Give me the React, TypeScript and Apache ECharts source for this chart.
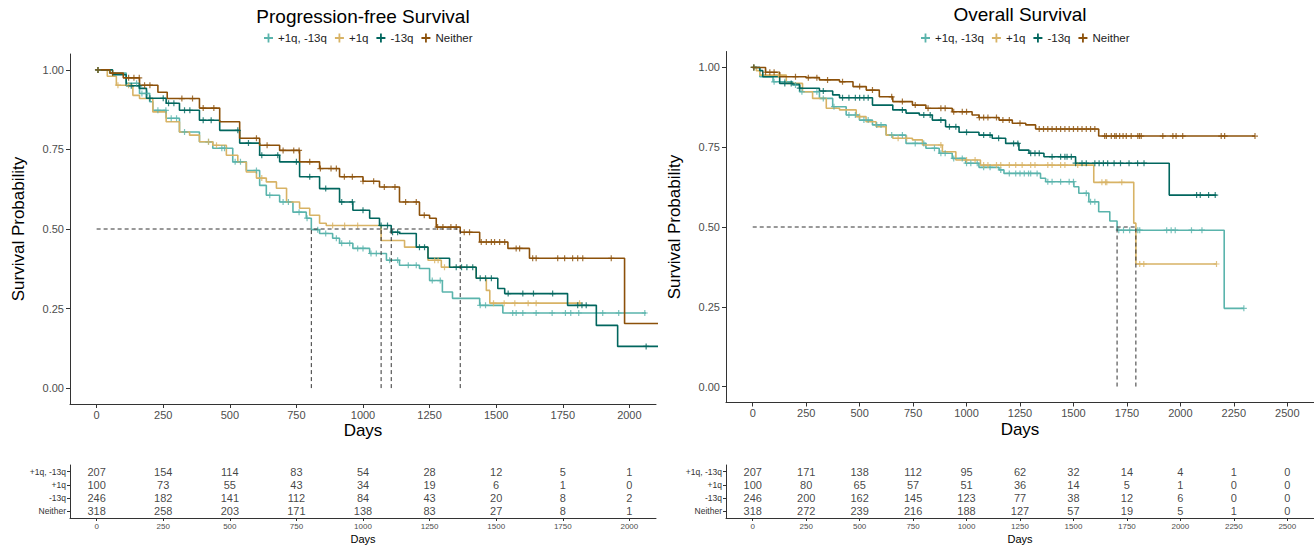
import { useEffect, useRef } from "react";
import * as echarts from "echarts";

type Pt = [number, number];

const FONT = "'Liberation Sans', Arial, Helvetica, sans-serif";

const groups = ["+1q, -13q", "+1q", "-13q", "Neither"];
const groupColors = ["#5AB4AC", "#D8B365", "#01665E", "#8C510A"];

// Kaplan-Meier steps: [day, survival from that day on]
const pfsGainDel: Pt[] = [[0, 1], [49, 0.99], [111, 0.958], [161, 0.926], [199, 0.9], [211, 0.873], [261, 0.848], [311, 0.805], [386, 0.774], [436, 0.754], [511, 0.711], [562, 0.684], [612, 0.637], [637, 0.606], [687, 0.585], [737, 0.553], [787, 0.534], [806, 0.498], [837, 0.486], [886, 0.471], [912, 0.455], [962, 0.439], [1025, 0.423], [1088, 0.402], [1137, 0.386], [1212, 0.376], [1250, 0.338], [1298, 0.302], [1336, 0.282], [1438, 0.26], [1525, 0.236], [2063, 0.236]];
const pfsGain: Pt[] = [[0, 1], [40, 0.98], [74, 0.952], [136, 0.92], [161, 0.91], [211, 0.868], [261, 0.837], [311, 0.805], [349, 0.795], [386, 0.774], [436, 0.763], [487, 0.732], [530, 0.71], [562, 0.679], [600, 0.66], [637, 0.648], [675, 0.628], [713, 0.585], [762, 0.565], [800, 0.543], [837, 0.518], [862, 0.511], [1068, 0.464], [1156, 0.443], [1244, 0.402], [1294, 0.38], [1425, 0.345], [1463, 0.307], [1476, 0.267], [1819, 0.267]];
const pfsDel: Pt[] = [[0, 1], [60, 0.985], [111, 0.95], [161, 0.942], [187, 0.911], [261, 0.895], [311, 0.873], [386, 0.842], [462, 0.81], [537, 0.77], [612, 0.732], [687, 0.711], [762, 0.664], [837, 0.627], [912, 0.585], [962, 0.559], [1025, 0.534], [1062, 0.511], [1106, 0.49], [1137, 0.486], [1200, 0.443], [1244, 0.408], [1325, 0.38], [1425, 0.345], [1506, 0.313], [1532, 0.297], [1768, 0.26], [1876, 0.197], [1956, 0.131], [2110, 0.131]];
const pfsNeither: Pt[] = [[0, 1], [50, 0.99], [100, 0.975], [161, 0.952], [230, 0.93], [265, 0.91], [386, 0.88], [462, 0.837], [537, 0.785], [612, 0.763], [687, 0.747], [762, 0.711], [837, 0.69], [912, 0.664], [1000, 0.65], [1062, 0.632], [1137, 0.585], [1212, 0.543], [1250, 0.534], [1275, 0.506], [1365, 0.49], [1438, 0.459], [1544, 0.439], [1625, 0.408], [1982, 0.203], [2110, 0.203]];

const osGainDel: Pt[] = [[0, 1], [33, 0.971], [95, 0.955], [187, 0.945], [219, 0.924], [312, 0.903], [374, 0.877], [437, 0.851], [499, 0.835], [560, 0.82], [624, 0.788], [717, 0.762], [810, 0.747], [872, 0.731], [933, 0.715], [996, 0.7], [1058, 0.687], [1152, 0.679], [1175, 0.668], [1346, 0.653], [1370, 0.642], [1502, 0.626], [1525, 0.606], [1572, 0.579], [1618, 0.548], [1670, 0.519], [1704, 0.49], [2205, 0.245], [2297, 0.245]];
const osGain: Pt[] = [[0, 1], [17, 0.99], [33, 0.976], [157, 0.95], [233, 0.924], [280, 0.903], [344, 0.872], [406, 0.867], [484, 0.846], [530, 0.83], [577, 0.814], [624, 0.788], [655, 0.778], [747, 0.773], [794, 0.757], [887, 0.736], [950, 0.71], [1065, 0.694], [1595, 0.64], [1782, 0.512], [1792, 0.384], [2169, 0.384]];
const osDel: Pt[] = [[0, 1], [33, 0.99], [47, 0.971], [126, 0.95], [187, 0.947], [219, 0.935], [312, 0.926], [374, 0.914], [406, 0.905], [560, 0.882], [655, 0.867], [717, 0.857], [779, 0.851], [840, 0.835], [902, 0.814], [965, 0.797], [1058, 0.788], [1120, 0.778], [1183, 0.762], [1245, 0.741], [1292, 0.731], [1362, 0.72], [1510, 0.7], [1948, 0.6], [2169, 0.6]];
const osNeither: Pt[] = [[0, 1], [60, 0.985], [126, 0.971], [250, 0.968], [312, 0.961], [406, 0.955], [469, 0.94], [531, 0.929], [592, 0.908], [655, 0.893], [747, 0.882], [810, 0.872], [933, 0.861], [1026, 0.851], [1058, 0.843], [1152, 0.835], [1214, 0.825], [1277, 0.82], [1323, 0.807], [1618, 0.785], [2349, 0.785]];

// Censoring times per group
const pfsCensGainDel = [5, 150, 170, 190, 230, 260, 280, 300, 330, 420, 470, 480, 520, 540, 600, 650, 700, 720, 760, 790, 830, 860, 900, 920, 950, 980, 1000, 1030, 1050, 1100, 1130, 1170, 1200, 1260, 1290, 1440, 1460, 1562, 1575, 1600, 1650, 1710, 1760, 1780, 1810, 1900, 1960, 2058];
const pfsCensGain = [5, 80, 120, 420, 450, 620, 886, 931, 980, 1269, 1282, 1306, 1490, 1530, 1570, 1620, 1650, 1813];
const pfsCensDel = [5, 130, 160, 200, 250, 270, 290, 330, 350, 400, 430, 530, 570, 620, 680, 750, 800, 860, 920, 960, 1000, 1068, 1092, 1111, 1130, 1212, 1231, 1350, 1370, 1390, 1412, 1440, 1460, 1482, 1545, 1600, 1640, 1712, 1806, 1822, 1838, 2063];
const pfsCensNeither = [5, 60, 120, 140, 160, 180, 200, 320, 360, 400, 440, 600, 640, 700, 740, 760, 800, 840, 880, 900, 930, 960, 1000, 1040, 1080, 1120, 1160, 1200, 1230, 1280, 1300, 1330, 1350, 1380, 1400, 1444, 1463, 1482, 1494, 1513, 1532, 1575, 1588, 1637, 1650, 1731, 1757, 1787, 1806, 1825, 1932];

const osCensGainDel = [5, 100, 150, 200, 230, 300, 330, 380, 450, 480, 520, 540, 580, 600, 650, 700, 760, 800, 850, 880, 900, 940, 980, 1000, 1020, 1050, 1080, 1110, 1160, 1200, 1230, 1250, 1270, 1290, 1300, 1330, 1380, 1400, 1440, 1480, 1500, 1560, 1580, 1600, 1712, 1734, 1763, 1801, 1810, 1936, 1957, 1976, 2052, 2101, 2297];
const osCensGain = [5, 120, 500, 680, 720, 880, 1000, 1040, 1080, 1100, 1140, 1160, 1200, 1230, 1260, 1300, 1320, 1380, 1400, 1440, 1460, 1520, 1633, 1650, 1656, 1726, 1810, 1829, 2169];
const osCensDel = [5, 150, 180, 220, 330, 420, 450, 480, 500, 520, 540, 700, 800, 830, 880, 920, 950, 1000, 1080, 1110, 1150, 1220, 1240, 1300, 1320, 1340, 1400, 1440, 1460, 1470, 1490, 1510, 1540, 1560, 1600, 1620, 1640, 1660, 1690, 1720, 1760, 1800, 1830, 2076, 2093, 2132, 2163];
const osCensNeither = [5, 60, 80, 100, 200, 260, 300, 350, 420, 500, 560, 650, 700, 760, 820, 880, 900, 940, 980, 1000, 1060, 1080, 1100, 1140, 1170, 1200, 1250, 1340, 1360, 1380, 1400, 1420, 1440, 1460, 1480, 1500, 1520, 1540, 1560, 1580, 1600, 1646, 1654, 1677, 1693, 1700, 1716, 1732, 1747, 1770, 1801, 1809, 1817, 1918, 1965, 1980, 2011, 2191, 2207, 2349];

// Numbers at risk
const pfsRiskDays = [0, 250, 500, 750, 1000, 1250, 1500, 1750, 2000];
const pfsRiskGainDel = [207, 154, 114, 83, 54, 28, 12, 5, 1];
const pfsRiskGain = [100, 73, 55, 43, 34, 19, 6, 1, 0];
const pfsRiskDel = [246, 182, 141, 112, 84, 43, 20, 8, 2];
const pfsRiskNeither = [318, 258, 203, 171, 138, 83, 27, 8, 1];

const osRiskDays = [0, 250, 500, 750, 1000, 1250, 1500, 1750, 2000, 2250, 2500];
const osRiskGainDel = [207, 171, 138, 112, 95, 62, 32, 14, 4, 1, 0];
const osRiskGain = [100, 80, 65, 57, 51, 36, 14, 5, 1, 0, 0];
const osRiskDel = [246, 200, 162, 145, 123, 77, 38, 12, 6, 0, 0];
const osRiskNeither = [318, 272, 239, 216, 188, 127, 57, 19, 5, 1, 0];

// Median survival times (days)
const pfsMedians = [806, 1068, 1106, 1365];
const osMedians = [1704, 1792];

const survTicks = [0, 0.25, 0.5, 0.75, 1];

const PLUS = "path://M4,0H6V4H10V6H6V10H4V6H0V4H4Z";
const AXIS = "#333333";
const TICKTXT = "#4D4D4D";

function survAt(curve: Pt[], t: number): number {
  let s = curve[0][1];
  for (const [ti, si] of curve) {
    if (ti <= t) s = si;
    else break;
  }
  return s;
}

interface Panel {
  title: string;
  curves: Pt[][];
  censors: number[][];
  medians: number[];
  riskDays: number[];
  risk: number[][];
  xMin: number;
  xMax: number;
}

const panels: Panel[] = [
  {
    title: "Progression-free Survival",
    curves: [pfsGainDel, pfsGain, pfsDel, pfsNeither],
    censors: [pfsCensGainDel, pfsCensGain, pfsCensDel, pfsCensNeither],
    medians: pfsMedians,
    riskDays: pfsRiskDays,
    risk: [pfsRiskGainDel, pfsRiskGain, pfsRiskDel, pfsRiskNeither],
    xMin: -100,
    xMax: 2100,
  },
  {
    title: "Overall Survival",
    curves: [osGainDel, osGain, osDel, osNeither],
    censors: [osCensGainDel, osCensGain, osCensDel, osCensNeither],
    medians: osMedians,
    riskDays: osRiskDays,
    risk: [osRiskGainDel, osRiskGain, osRiskDel, osRiskNeither],
    xMin: -125,
    xMax: 2625,
  },
];

const plainNum = (v: number) => String(v);

function buildOption(): echarts.EChartsOption {
  const grids = [
    { left: 70, top: 54, width: 586, height: 350 },
    { left: 726, top: 51.5, width: 590, height: 351 },
    { left: 70, top: 465, width: 586, height: 53 },
    { left: 726, top: 465, width: 590, height: 53 },
  ];
  const titleX = [363, 1020];
  const titleY = [16, 14];
  const legendLeft = [259, 916];

  const xAxes: any[] = [];
  const yAxes: any[] = [];
  const series: any[] = [];

  panels.forEach((p, pi) => {
    const plotGrid = pi;
    const tableGrid = pi + 2;
    // survival plot axes
    xAxes.push({
      gridIndex: plotGrid,
      type: "value",
      min: p.xMin,
      max: p.xMax,
      splitLine: { show: false },
      axisLine: { show: true, onZero: false, lineStyle: { color: AXIS, width: 1 } },
      axisTick: { show: true, length: 4, customValues: p.riskDays, lineStyle: { color: AXIS } },
      axisLabel: { customValues: p.riskDays, fontSize: 11, color: TICKTXT, margin: 5, fontFamily: FONT, formatter: plainNum },
      name: "Days",
      nameLocation: "middle",
      nameGap: 18,
      nameMoveOverlap: false,
      nameTextStyle: { fontSize: 17, color: "#000", fontFamily: FONT },
    });
    yAxes.push({
      gridIndex: plotGrid,
      type: "value",
      min: -0.05,
      max: 1.05,
      splitLine: { show: false },
      axisLine: { show: true, onZero: false, lineStyle: { color: AXIS, width: 1 } },
      axisTick: { show: true, length: 4, customValues: survTicks, lineStyle: { color: AXIS } },
      axisLabel: {
        customValues: survTicks,
        fontSize: 11,
        color: TICKTXT,
        margin: 6,
        fontFamily: FONT,
        formatter: (v: number) => v.toFixed(2),
      },
      name: "Survival Probability",
      nameLocation: "middle",
      nameGap: 43,
      nameRotate: 90,
      nameTextStyle: { fontSize: 17, color: "#000", fontFamily: FONT },
    });
    // risk table axes
    xAxes.push({
      gridIndex: tableGrid,
      type: "value",
      min: p.xMin,
      max: p.xMax,
      splitLine: { show: false },
      axisLine: { show: true, onZero: false, lineStyle: { color: AXIS, width: 1 } },
      axisTick: { show: true, length: 3, customValues: p.riskDays, lineStyle: { color: AXIS } },
      axisLabel: { customValues: p.riskDays, fontSize: 8, color: TICKTXT, margin: 4, fontFamily: FONT, formatter: plainNum },
      name: "Days",
      nameLocation: "middle",
      nameGap: 15,
      nameMoveOverlap: false,
      nameTextStyle: { fontSize: 11, color: "#000", fontFamily: FONT },
    });
    yAxes.push({
      gridIndex: tableGrid,
      type: "category",
      data: groups,
      inverse: true,
      splitLine: { show: false },
      axisLine: { show: true, onZero: false, lineStyle: { color: AXIS, width: 1 } },
      axisTick: { show: true, length: 3, alignWithLabel: true, lineStyle: { color: AXIS } },
      axisLabel: { fontSize: 8.5, color: "#333", margin: 4, fontFamily: FONT },
    });

    const xPlot = xAxes.length - 2;
    const yPlot = yAxes.length - 2;
    const xTab = xAxes.length - 1;
    const yTab = yAxes.length - 1;

    // survival curves
    p.curves.forEach((curve, gi) => {
      series.push({
        name: groups[gi],
        type: "line",
        step: "end",
        xAxisIndex: xPlot,
        yAxisIndex: yPlot,
        data: curve,
        symbol: "none",
        lineStyle: { color: groupColors[gi], width: 1.6 },
        itemStyle: { color: groupColors[gi] },
        z: 3,
      });
    });
    // censoring marks
    p.censors.forEach((times, gi) => {
      series.push({
        name: groups[gi],
        type: "scatter",
        xAxisIndex: xPlot,
        yAxisIndex: yPlot,
        data: times.map((t) => [t, survAt(p.curves[gi], t)]),
        symbol: PLUS,
        symbolSize: 6,
        itemStyle: { color: groupColors[gi] },
        z: 4,
      });
    });
    // median lines
    const maxMed = Math.max(...p.medians);
    const dash = { color: "#333", width: 1, type: [4, 3] };
    series.push({
      name: "median",
      type: "line",
      xAxisIndex: xPlot,
      yAxisIndex: yPlot,
      data: [[0, 0.5], [maxMed, 0.5]],
      symbol: "none",
      lineStyle: dash,
      z: 5,
    });
    p.medians.forEach((m) => {
      series.push({
        name: "median",
        type: "line",
        xAxisIndex: xPlot,
        yAxisIndex: yPlot,
        data: [[m, 0], [m, 0.5]],
        symbol: "none",
        lineStyle: dash,
        z: 5,
      });
    });
    // numbers at risk
    const riskData: any[] = [];
    p.risk.forEach((row, gi) => {
      row.forEach((n, ti) => riskData.push([p.riskDays[ti], groups[gi], n]));
    });
    series.push({
      name: "at risk",
      type: "scatter",
      xAxisIndex: xTab,
      yAxisIndex: yTab,
      data: riskData,
      symbolSize: 1,
      itemStyle: { color: "transparent" },
      label: {
        show: true,
        position: "inside",
        fontSize: 11,
        color: "#111",
        fontFamily: FONT,
        formatter: (d: any) => String(d.value[2]),
      },
    });
  });

  const legendCommon = {
    data: groups,
    icon: PLUS,
    itemWidth: 9,
    itemHeight: 9,
    itemGap: 8,
    top: 27,
    textStyle: { fontSize: 11.5, color: "#222", fontFamily: FONT },
    selectedMode: false as const,
  };

  return {
    animation: false,
    backgroundColor: "#ffffff",
    textStyle: { fontFamily: FONT },
    grid: grids,
    xAxis: xAxes,
    yAxis: yAxes,
    legend: legendLeft.map((left) => ({ ...legendCommon, left })),
    graphic: panels.map((p, pi) => ({
      type: "text",
      x: titleX[pi],
      y: titleY[pi],
      style: {
        text: p.title,
        fontSize: 19,
        fontFamily: FONT,
        fill: "#000",
        align: "center",
        verticalAlign: "middle",
        textAlign: "center",
        textVerticalAlign: "middle",
      },
    })),
    series,
  };
}

export default function App() {
  const ref = useRef<HTMLDivElement>(null);
  useEffect(() => {
    if (!ref.current) return;
    const chart = echarts.init(ref.current, undefined, { renderer: "svg" });
    chart.setOption(buildOption());
    return () => chart.dispose();
  }, []);
  return (
    <div
      ref={ref}
      style={{ position: "fixed", left: 0, top: 0, width: 1314, height: 548, background: "#fff" }}
    />
  );
}
